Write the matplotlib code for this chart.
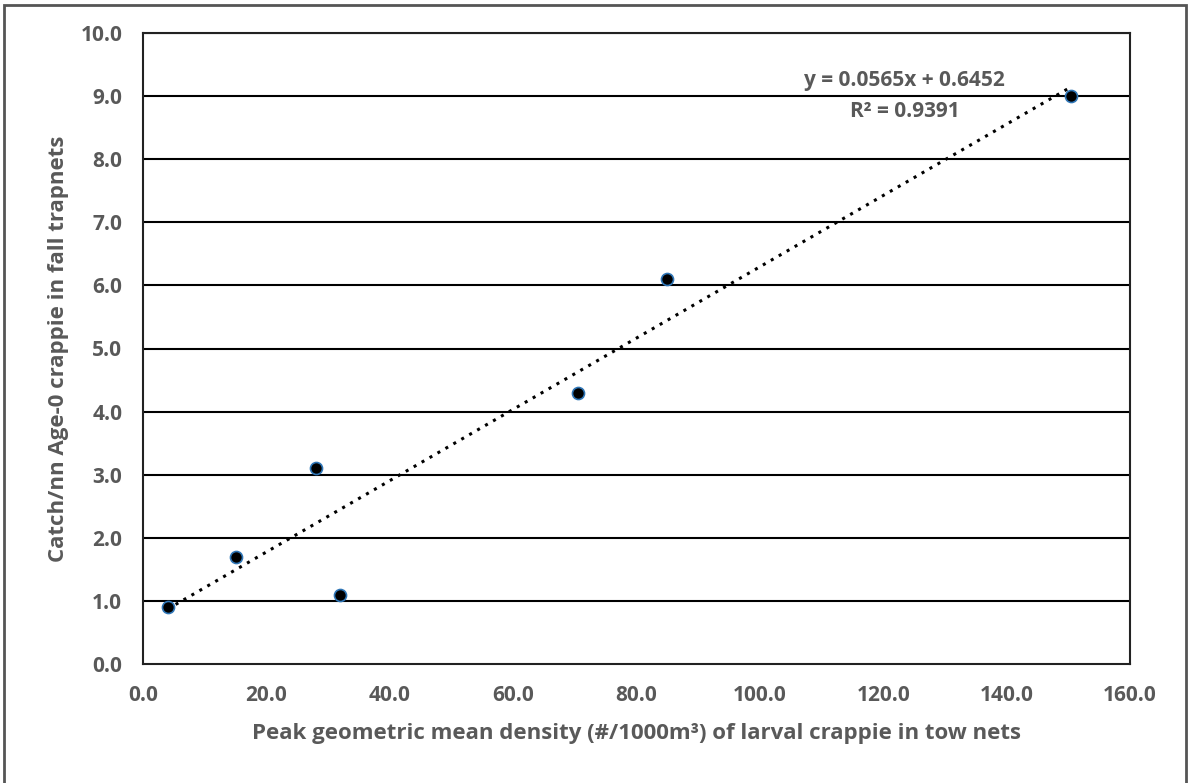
import numpy as np
import matplotlib.pyplot as plt
from matplotlib.patches import Rectangle

# larval density vs fall trapnet catch
density = [4.0, 15.0, 28.0, 32.0, 70.5, 85.0, 150.5]
catch = [0.9, 1.7, 3.1, 1.1, 4.3, 6.1, 9.0]
slope = 0.0565
intercept = 0.6452
eq_label = "y = 0.0565x + 0.6452"
r2_label = "R² = 0.9391"

plt.rcParams['font.family'] = ['Open Sans', 'DejaVu Sans']
grey = '#595959'

fig = plt.figure(figsize=(11.88, 7.83), dpi=100)
ax = fig.add_axes([143 / 1188, 1 - 664 / 783, (1130 - 143) / 1188, (664 - 33) / 783])

# outer chart border (left, top, right)
fig.add_artist(Rectangle((4 / 1188, -0.05), 1182 / 1188, 1 - 5 / 783 + 0.05,
                         transform=fig.transFigure, fill=False, edgecolor='#555555', lw=2))

for y in np.arange(1, 11):
    ax.axhline(y, color='black', lw=1.5, zorder=1)

xs = np.array([min(density), max(density)])
ax.plot(xs, slope * xs + intercept, color='black', lw=2.2, linestyle=(0, (1, 2)), zorder=2)
ax.scatter(density, catch, s=75, color='black', edgecolors='#2e75b6', linewidths=1.2, zorder=3)

ax.set_xlim(0, 160)
ax.set_ylim(0, 10)
ax.set_xticks(np.arange(0, 161, 20))
ax.set_yticks(np.arange(0, 11, 1))
ax.set_xticklabels([f"{v:.1f}" for v in np.arange(0, 161, 20)])
ax.set_yticklabels([f"{v:.1f}" for v in np.arange(0, 11, 1)])
ax.tick_params(length=0, labelsize=15, labelcolor=grey, pad=15)
for lab in ax.get_xticklabels() + ax.get_yticklabels():
    lab.set_fontweight('bold')
for s in ax.spines.values():
    s.set_color('#222222')
    s.set_linewidth(1.5)

ax.set_xlabel("Peak geometric mean density (#/1000m³) of larval crappie in tow nets",
              fontsize=16, fontweight='bold', color=grey, labelpad=12)
ax.set_ylabel("Catch/nn Age-0 crappie in fall trapnets",
              fontsize=16, fontweight='bold', color=grey, labelpad=8)

ax.text(123.5, 9.24, eq_label, ha='center', va='center', fontsize=15, fontweight='bold', color=grey)
ax.text(123.5, 8.76, r2_label, ha='center', va='center', fontsize=15, fontweight='bold', color=grey)

fig.savefig('out.png', dpi=100)
